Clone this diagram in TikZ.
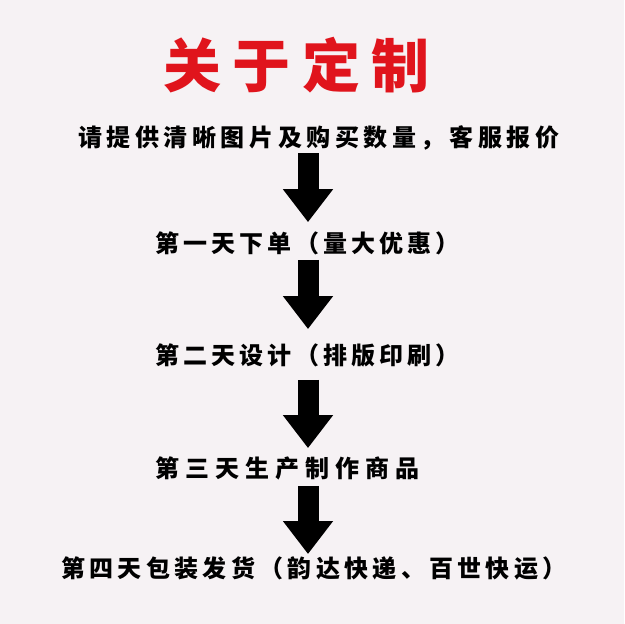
\documentclass[tikz,border=0pt]{standalone}
\usepackage{fontspec}
\usetikzlibrary{arrows.meta, positioning}
\newfontfamily\cjk{Noto Sans CJK SC}
\definecolor{bgPink}{HTML}{F6F2F4}
\definecolor{titleRed}{HTML}{E0141C}
\tikzset{
  bigarrow/.style = {-{Triangle[width=48pt, length=33pt]}, line width=21pt, black},
  steplbl/.style  = {anchor=west, inner sep=0pt,
                     font=\cjk\bfseries\fontsize{24}{24}\selectfont\addfontfeature{LetterSpace=#1}},
  steplbl/.default = 17,
  titlelbl/.style = {anchor=west, inner sep=0pt, titleRed,
                     font=\cjk\bfseries\fontsize{58}{58}\selectfont\addfontfeature{LetterSpace=20}},
}

\begin{document}
\begin{tikzpicture}[x=1pt,y=-1pt]
  \fill[bgPink] (0,0) rectangle (624,624);
  \useasboundingbox (0,0) rectangle (624,624);
  \node[titlelbl] (title) at (163,65) {关于定制};
  \node[steplbl=19] (s0) at (78,138) {请提供清晰图片及购买数量，客服报价};
  \node[steplbl] (s1) at (155,243) {第一天下单（量大优惠）};
  \node[steplbl] (s2) at (155,355) {第二天设计（排版印刷）};
  \node[steplbl=25] (s3) at (155,468) {第三天生产制作商品};
  \node[steplbl=18] (s4) at (61,568) {第四天包装发货（韵达快递、百世快运）};
  \coordinate (axis) at (308,0);
  % arrows between the steps
  \draw[bigarrow, shorten <=3pt, shorten >=9pt] (s0.south -| axis) -- (s1.north -| axis);
  \draw[bigarrow, shorten <=5pt, shorten >=14pt] (s1.south -| axis) -- (s2.north -| axis);
  \draw[bigarrow, shorten <=13pt, shorten >=8pt] (s2.south -| axis) -- (s3.north -| axis);
  \draw[bigarrow, shorten <=6pt, shorten >=2pt] (s3.south -| axis) -- (s4.north -| axis);
\end{tikzpicture}
\end{document}
